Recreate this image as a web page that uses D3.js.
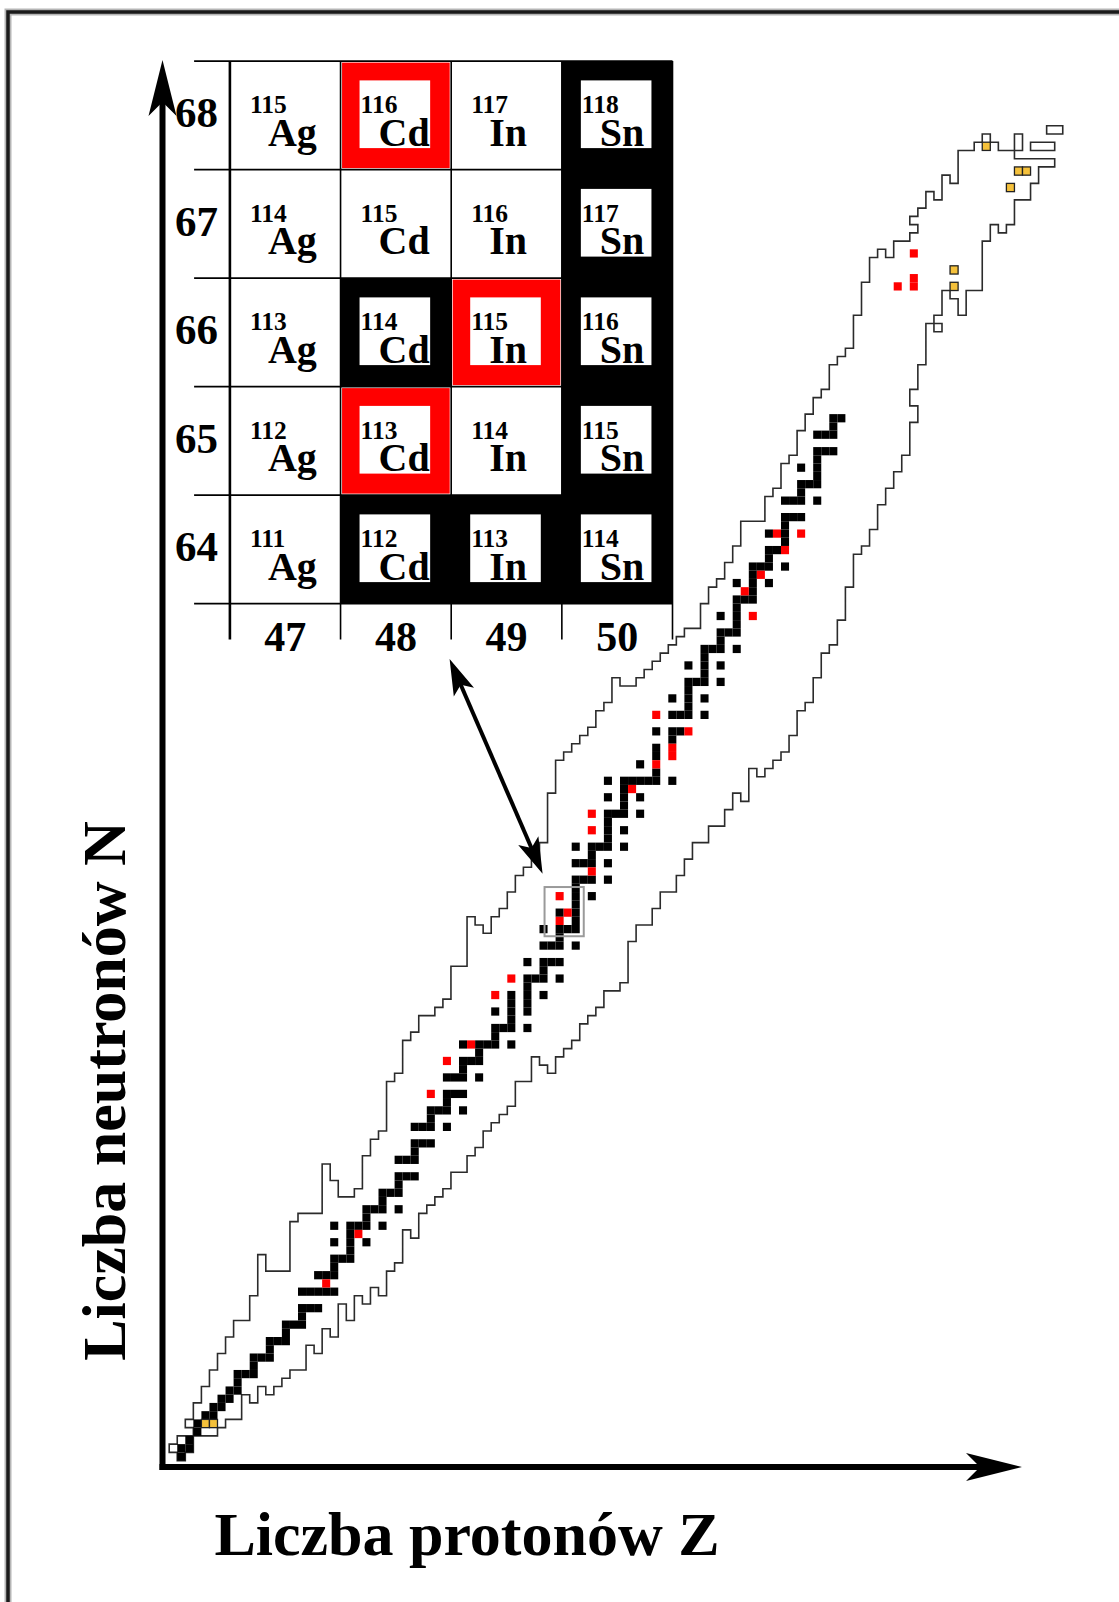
<!DOCTYPE html>
<html>
<head>
<meta charset="utf-8">
<script src="https://cdn.jsdelivr.net/npm/d3@7"></script>
<style>
  html, body { margin: 0; padding: 0; background: #fff; }
  svg { display: block; }
  text { font-family: "Liberation Serif", "Times New Roman", serif; font-weight: bold; }
</style>
</head>
<body>
<svg id="chart"></svg>
<script>
// ---- data ----
// stable nuclides: [Z, [N, ...]]
const stableNuclides = [
  [1,[0,1]],[2,[1,2]],[3,[3,4]],[4,[5]],[5,[5,6]],[6,[6,7]],[7,[7,8]],[8,[8,9,10]],[9,[10]],
  [10,[10,11,12]],[11,[12]],[12,[12,13,14]],[13,[14]],[14,[14,15,16]],[15,[16]],[16,[16,17,18,20]],
  [17,[18,20]],[18,[18,20,22]],[19,[20,22]],[20,[20,22,23,24,26,28]],[21,[24]],[22,[24,25,26,27,28]],
  [23,[28]],[24,[26,28,29,30]],[25,[30]],[26,[28,30,31,32]],[27,[32]],[28,[30,32,33,34,36]],
  [29,[34,36]],[30,[34,36,37,38,40]],[31,[38,40]],[32,[38,40,41,42]],[33,[42]],[34,[40,42,43,44,46]],
  [35,[44,46]],[36,[42,44,46,47,48,50]],[37,[48]],[38,[46,48,49,50]],[39,[50]],[40,[50,51,52,54]],
  [41,[52]],[42,[50,52,53,54,55,56]],[44,[52,54,55,56,57,58,60]],[45,[58]],[46,[56,58,59,60,62,64]],
  [47,[60,62]],[48,[58,60,62,63,64,66]],[49,[64]],[50,[62,64,65,66,67,68,69,70,72,74]],[51,[70,72]],
  [52,[68,70,72,73,74]],[53,[74]],[54,[70,72,74,75,76,77,78,80,82]],[55,[78]],[56,[74,76,78,79,80,81,82]],
  [57,[82]],[58,[78,80,82,84]],[59,[82]],[60,[82,83,85,86,88]],[62,[82,87,88,90,92]],[63,[88,90]],
  [64,[90,91,92,93,94,96]],[65,[94]],[66,[90,92,94,95,96,97,98]],[67,[98]],[68,[94,96,98,99,100,102]],
  [69,[100]],[70,[98,100,101,102,103,104,106]],[71,[104]],[72,[104,105,106,107,108]],[73,[108]],
  [74,[106,108,109,110,112]],[75,[110]],[76,[108,111,112,113,114,116]],[77,[114,116]],
  [78,[114,116,117,118,120]],[79,[118]],[80,[116,118,119,120,121,122,124]],[81,[122,124]],
  [82,[122,124,125,126]],[83,[126]]
];

// long-lived radioactive nuclides (red): [Z, N]
const longLived = [
  [19,21],[23,27],[32,44],[34,48],[37,50],[40,56],[42,58],[48,65],[48,68],[49,66],[52,71],[52,76],
  [52,78],[57,81],[60,84],[60,90],[62,85],[62,86],[64,88],[71,105],[72,102],[73,107],[75,112],
  [76,110],[78,112],[90,142],[92,142],[92,143],[92,146]
];

// yellow cells: [Z, N]
const yellowCells = [[4,4],[5,4],[97,142],[97,144],[101,159],[104,154],[105,156],[106,156]];

// known nuclides: [Z, Nmin, Nmax]
const knownRanges = [
  [0,1,1],[1,0,2],[2,1,2],[2,4,4],[3,3,6],[4,3,8],[5,3,10],[6,4,12],[7,5,14],[8,5,16],[9,8,16],
  [10,7,19],[11,9,24],[12,8,22],[13,9,22],[14,10,22],[15,11,28],[16,11,29],[17,14,29],[18,13,29],[19,16,35],
  [20,15,33],[21,19,31],[22,17,31],[23,20,32],[24,19,36],[25,21,38],[26,20,39],[27,23,45],[28,24,46],[29,28,50],
  [30,27,51],[31,30,53],[32,31,53],[33,32,54],[34,33,55],[35,35,59],[36,35,59],[37,37,65],[38,38,64],[39,40,63],
  [40,41,65],[41,42,66],[42,43,68],[43,46,70],[44,46,71],[45,49,72],[46,48,74],[47,47,80],[48,49,84],[49,50,85],
  [50,51,86],[51,53,87],[52,54,88],[53,55,90],[54,57,91],[55,57,94],[56,58,93],[57,63,93],[58,65,94],[59,65,95],
  [60,67,96],[61,69,97],[62,69,98],[63,71,99],[64,73,100],[65,75,100],[66,75,103],[67,77,105],[68,77,106],[69,79,108],
  [70,81,110],[71,80,113],[72,84,113],[73,83,113],[74,84,116],[75,85,117],[76,86,120],[77,88,121],[78,91,124],[79,92,126],
  [80,95,128],[81,98,129],[82,99,132],[83,102,133],[84,106,134],[85,110,138],[86,111,142],[87,113,145],[88,116,146],[89,118,145],
  [90,120,147],[91,122,147],[92,126,127],[92,130,148],[92,150,150],[93,133,151],[94,138,153],[95,139,152],[95,137,137],[96,142,155],
  [97,141,154],[98,139,158],[99,142,158],[100,142,159],[101,148,160],[102,150,159],[103,149,158],[104,150,158],[105,153,157],[105,159,160],
  [106,153,157],[107,155,157],[107,159,159],[108,157,157],[108,159,159],[109,157,157],[109,159,159],[109,161,161],[110,161,161]
];

// inset
const insetZ = [47, 48, 49, 50];
const insetSymbols = ['Ag', 'Cd', 'In', 'Sn'];
const insetN = [64, 65, 66, 67, 68];

const xLabel = 'Liczba protonów Z';
const yLabel = 'Liczba neutronów N';

// ---- setup ----
const width = 1119;
const height = 1602;
const svg = d3.select('#chart').attr('width', width).attr('height', height);

// frame (left + top edges)
svg.append('path')
  .attr('d', `M8,${height}V12H${width}`)
  .attr('fill', 'none').attr('stroke', '#b5b5b5').attr('stroke-width', 7);
svg.append('path')
  .attr('d', `M8,${height}V12H${width}`)
  .attr('fill', 'none').attr('stroke', '#1a1a1a').attr('stroke-width', 3.5);

// main scales: one cell per Z / N
const x = d3.scaleLinear().domain([0, 111]).range([169.2, 169.2 + 111 * 8.05]);
const y = d3.scaleLinear().domain([0, 162]).range([1460.6, 1460.6 - 162 * 8.24]);
const key = (z, n) => `${z},${n}`;

//Collect all known cells
const known = new Set();
knownRanges.forEach(([z, a, b]) => { for (let n = a; n <= b; n++) known.add(key(z, n)); });
const stableCells = [];
stableNuclides.forEach(([z, ns]) => ns.forEach((n) => stableCells.push([z, n])));
stableCells.concat(longLived, yellowCells).forEach(([z, n]) => known.add(key(z, n)));

//Outline of known nuclides
let outline = '';
known.forEach((k) => {
  const [z, n] = k.split(',').map(Number);
  if (!known.has(key(z, n + 1))) outline += `M${x(z)},${y(n + 1)}H${x(z + 1)}`;
  if (!known.has(key(z, n - 1))) outline += `M${x(z)},${y(n)}H${x(z + 1)}`;
  if (!known.has(key(z - 1, n))) outline += `M${x(z)},${y(n + 1)}V${y(n)}`;
  if (!known.has(key(z + 1, n))) outline += `M${x(z + 1)},${y(n + 1)}V${y(n)}`;
});
svg.append('path')
  .attr('d', outline)
  .attr('fill', 'none')
  .attr('stroke', '#2b2b2b')
  .attr('stroke-width', 1.6)
  .attr('stroke-linecap', 'square');

const drawCells = (cells, fill, cls) => {
  svg.selectAll('.' + cls)
    .data(cells)
    .enter()
    .append('rect')
    .attr('class', cls)
    .attr('x', (d) => x(d[0]))
    .attr('y', (d) => y(d[1] + 1))
    .attr('width', (d) => x(d[0] + 1) - x(d[0]))
    .attr('height', (d) => y(d[1]) - y(d[1] + 1))
    .attr('fill', fill);
};
drawCells(stableCells, '#000', 'stable');
drawCells(longLived, '#ff0000', 'longlived');
drawCells(yellowCells, '#f5c13b', 'yellow');
svg.selectAll('.yellow').attr('stroke', '#222').attr('stroke-width', 1.3);

// gray box around the zoomed region
svg.append('rect')
  .attr('x', x(insetZ[0]) - 3)
  .attr('y', y(insetN[insetN.length - 1] + 1) - 5)
  .attr('width', x(insetZ[insetZ.length - 1] + 1) - x(insetZ[0]) + 7)
  .attr('height', y(insetN[0]) - y(insetN[insetN.length - 1] + 1) + 8)
  .attr('fill', 'none')
  .attr('stroke', '#9a9a9a')
  .attr('stroke-width', 2);

// ---- axes (arrows) ----
const arrowHead = (tx, ty, ang, len, half, notch) => {
  const ux = Math.cos(ang), uy = Math.sin(ang);
  const px = -uy, py = ux;
  const bx = tx - ux * len, by = ty - uy * len;
  return `M${tx},${ty}L${bx + px * half},${by + py * half}` +
    `L${tx - ux * (len - notch)},${ty - uy * (len - notch)}` +
    `L${bx - px * half},${by - py * half}Z`;
};

svg.append('line')
  .attr('x1', 162.5).attr('y1', 1470).attr('x2', 162.5).attr('y2', 100)
  .attr('stroke', '#000').attr('stroke-width', 6);
svg.append('path').attr('d', arrowHead(162.5, 60, -Math.PI / 2, 56, 14, 14)).attr('fill', '#000');

svg.append('line')
  .attr('x1', 159.5).attr('y1', 1467).attr('x2', 985).attr('y2', 1467)
  .attr('stroke', '#000').attr('stroke-width', 6);
svg.append('path').attr('d', arrowHead(1022, 1467, 0, 56, 14, 14)).attr('fill', '#000');

svg.append('text')
  .attr('x', 467).attr('y', 1555)
  .attr('text-anchor', 'middle')
  .attr('font-size', 62)
  .text(xLabel);

svg.append('text')
  .attr('transform', 'translate(125,1091) rotate(-90)')
  .attr('text-anchor', 'middle')
  .attr('font-size', 62)
  .text(yLabel);

// ---- inset ----
const ix = d3.scaleLinear().domain([insetZ[0], insetZ[insetZ.length - 1] + 1]).range([229.9, 672.5]);
const iy = d3.scaleLinear().domain([insetN[0], insetN[insetN.length - 1] + 1]).range([603.6, 61.1]);
const inset = svg.append('g');

const isStable = (z, n) => stableCells.some((d) => d[0] === z && d[1] === n);
const isLong = (z, n) => longLived.some((d) => d[0] === z && d[1] === n);

const insetCells = [];
insetZ.forEach((z, i) => insetN.forEach((n) => insetCells.push({ z, n, sym: insetSymbols[i] })));

inset.append('rect')
  .attr('x', ix.range()[0]).attr('y', iy.range()[1])
  .attr('width', ix.range()[1] - ix.range()[0])
  .attr('height', iy.range()[0] - iy.range()[1])
  .attr('fill', '#fff');

// grid lines
insetN.concat([insetN[insetN.length - 1] + 1]).forEach((n) => {
  inset.append('line')
    .attr('x1', 194.1).attr('x2', ix.range()[1])
    .attr('y1', iy(n)).attr('y2', iy(n))
    .attr('stroke', '#000').attr('stroke-width', 1.6);
});
insetZ.concat([insetZ[insetZ.length - 1] + 1]).forEach((z, i) => {
  inset.append('line')
    .attr('x1', ix(z)).attr('x2', ix(z))
    .attr('y1', iy.range()[1]).attr('y2', iy.range()[0] + 36)
    .attr('stroke', '#000').attr('stroke-width', i === 0 ? 2.6 : 1.6);
});

const cw = ix(insetZ[0] + 1) - ix(insetZ[0]);
const rh = iy(insetN[0]) - iy(insetN[0] + 1);

insetCells.forEach((c) => {
  const left = ix(c.z), top = iy(c.n + 1);
  const stable = isStable(c.z, c.n), red = isLong(c.z, c.n);
  if (stable) {
    inset.append('rect').attr('x', left).attr('y', top).attr('width', cw).attr('height', rh).attr('fill', '#000');
  } else if (red) {
    inset.append('rect').attr('x', left + 1.5).attr('y', top + 1.5)
      .attr('width', cw - 3).attr('height', rh - 3).attr('fill', '#ff0000');
  }
  if (stable || red) {
    inset.append('rect').attr('x', left + 19).attr('y', top + 19.3)
      .attr('width', 70.6).attr('height', 67.7).attr('fill', '#fff');
  }
  inset.append('text')
    .attr('x', left + 20).attr('y', top + 52)
    .attr('font-size', 25.5)
    .text(c.z + c.n);
  inset.append('text')
    .attr('x', left + 38).attr('y', top + 84.6)
    .attr('font-size', 40)
    .text(c.sym);
});

// row labels (N) and column labels (Z)
inset.selectAll('.nlabel')
  .data(insetN)
  .enter()
  .append('text')
  .attr('class', 'nlabel')
  .attr('x', 196.5)
  .attr('y', (d) => iy(d + 1) + 66)
  .attr('text-anchor', 'middle')
  .attr('font-size', 43)
  .text((d) => d);

inset.selectAll('.zlabel')
  .data(insetZ)
  .enter()
  .append('text')
  .attr('class', 'zlabel')
  .attr('x', (d) => (ix(d) + ix(d + 1)) / 2)
  .attr('y', 651)
  .attr('text-anchor', 'middle')
  .attr('font-size', 42)
  .text((d) => d);

// double arrow from inset to the gray box
const p1 = [449.6, 659], p2 = [542.6, 873.7];
const ang = Math.atan2(p2[1] - p1[1], p2[0] - p1[0]);
const ux = Math.cos(ang), uy = Math.sin(ang);
svg.append('line')
  .attr('x1', p1[0] + ux * 25).attr('y1', p1[1] + uy * 25)
  .attr('x2', p2[0] - ux * 25).attr('y2', p2[1] - uy * 25)
  .attr('stroke', '#000').attr('stroke-width', 4);
svg.append('path').attr('d', arrowHead(p2[0], p2[1], ang, 36, 11, 8)).attr('fill', '#000');
svg.append('path').attr('d', arrowHead(p1[0], p1[1], ang + Math.PI, 36, 11, 8)).attr('fill', '#000');
</script>
</body>
</html>
